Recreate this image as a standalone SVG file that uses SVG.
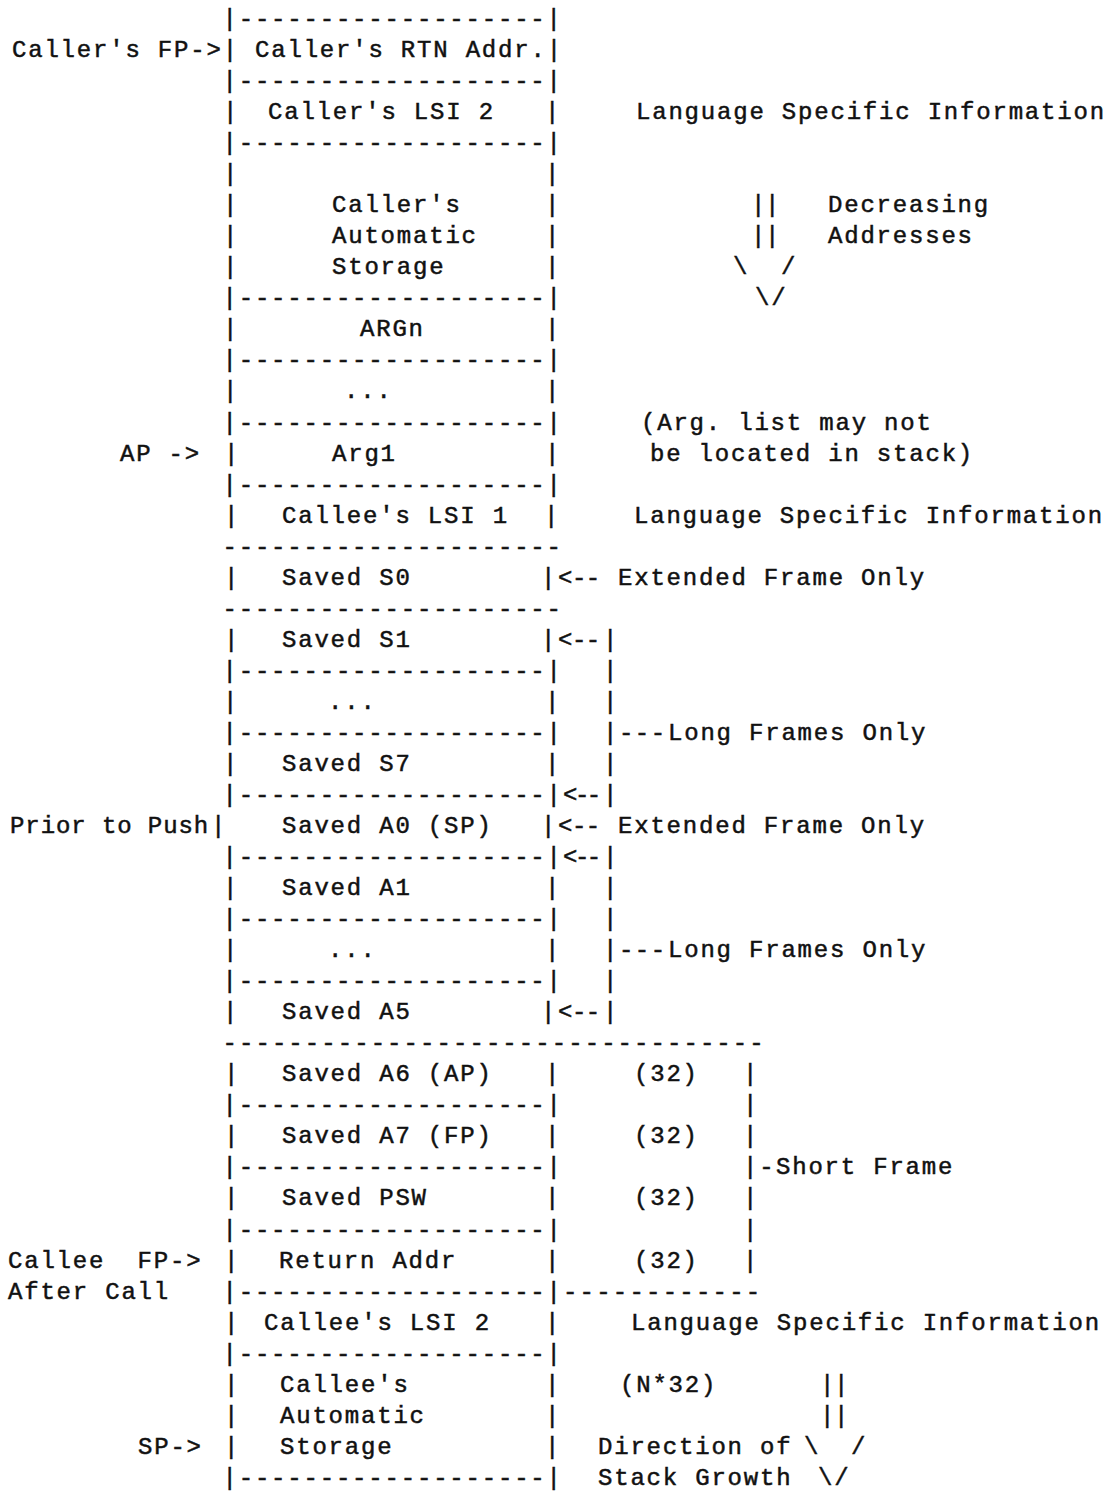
<svg xmlns="http://www.w3.org/2000/svg" width="1109" height="1491" viewBox="0 0 1109 1491">
<style>
text { font-family: "Liberation Mono", "Courier New", monospace; font-size: 24px; letter-spacing: 1.8px; fill: #111; stroke: #111; stroke-width: 0.5; white-space: pre; }
</style>
<rect width="1109" height="1491" fill="#fff"/>
<g id="stack" xml:space="preserve">
<g id="border-top"><text x="222.5" y="26">|-------------------|</text></g>
<g id="callers-rtn"><text x="12" y="57">Caller's FP-&gt;| Caller's RTN Addr.|</text></g>
<text x="222.5" y="88">|-------------------|</text>
<g id="callers-lsi2"><text x="223" y="119">|</text><text x="268" y="119">Caller's LSI 2</text><text x="545" y="119">|</text></g>
<text x="222.5" y="150">|-------------------|</text>
<g id="callers-auto">
<text x="223" y="181">|</text><text x="545" y="181">|</text>
<text x="223" y="212">|</text><text x="332" y="212">Caller's</text><text x="545" y="212">|</text>
<text x="223" y="243">|</text><text x="332" y="243">Automatic</text><text x="545" y="243">|</text>
<text x="223" y="274">|</text><text x="332" y="274">Storage</text><text x="545" y="274">|</text>
</g>
<text x="222.5" y="305">|-------------------|</text>
<g id="argn"><text x="223" y="336">|</text><text x="360" y="336">ARGn</text><text x="545" y="336">|</text></g>
<text x="222.5" y="367">|-------------------|</text>
<g id="args-dots"><text x="223" y="398">|</text><text x="344" y="398">...</text><text x="545" y="398">|</text></g>
<text x="222.5" y="430">|-------------------|</text>
<g id="arg1"><text x="120" y="461">AP -&gt;</text><text x="224" y="461">|</text><text x="332" y="461">Arg1</text><text x="545" y="461">|</text></g>
<text x="222.5" y="492">|-------------------|</text>
<g id="callee-lsi1"><text x="224" y="523">|</text><text x="282" y="523">Callee's LSI 1</text><text x="544" y="523">|</text></g>
<text x="222.5" y="554">---------------------</text>
<g id="saved-s0"><text x="224" y="585">|</text><text x="282" y="585">Saved S0</text><text x="541" y="585">|</text></g>
<text x="222.5" y="616">---------------------</text>
<g id="saved-s1"><text x="224" y="647">|</text><text x="282" y="647">Saved S1</text><text x="541" y="647">|</text></g>
<text x="222.5" y="678">|-------------------|</text>
<g id="saved-s-dots"><text x="223" y="709">|</text><text x="328" y="709">...</text><text x="545" y="709">|</text></g>
<text x="222.5" y="740">|-------------------|</text>
<g id="saved-s7"><text x="223" y="771">|</text><text x="282" y="771">Saved S7</text><text x="545" y="771">|</text></g>
<text x="222.5" y="802">|-------------------|</text>
<g id="saved-a0"><text x="10" y="833" textLength="200" lengthAdjust="spacing">Prior to Push</text><text x="211" y="833">|</text><text x="282" y="833">Saved A0 (SP)</text><text x="541" y="833">|</text></g>
<text x="222.5" y="864">|-------------------|</text>
<g id="saved-a1"><text x="223" y="895">|</text><text x="282" y="895">Saved A1</text><text x="545" y="895">|</text></g>
<text x="222.5" y="926">|-------------------|</text>
<g id="saved-a-dots"><text x="223" y="957">|</text><text x="328" y="957">...</text><text x="545" y="957">|</text></g>
<text x="222.5" y="988">|-------------------|</text>
<g id="saved-a5"><text x="223" y="1019">|</text><text x="282" y="1019">Saved A5</text><text x="541" y="1019">|</text></g>
<text x="222.5" y="1050" textLength="543" lengthAdjust="spacing">---------------------------------</text>
<g id="saved-a6"><text x="224" y="1081">|</text><text x="282" y="1081">Saved A6 (AP)</text><text x="545" y="1081">|</text><text x="634" y="1081">(32)</text></g>
<text x="222.5" y="1112">|-------------------|</text>
<g id="saved-a7"><text x="224" y="1143">|</text><text x="282" y="1143">Saved A7 (FP)</text><text x="545" y="1143">|</text><text x="634" y="1143">(32)</text></g>
<text x="222.5" y="1174">|-------------------|</text>
<g id="saved-psw"><text x="224" y="1205">|</text><text x="282" y="1205">Saved PSW</text><text x="545" y="1205">|</text><text x="634" y="1205">(32)</text></g>
<text x="222.5" y="1237">|-------------------|</text>
<g id="return-addr"><text x="8" y="1268">Callee  FP-&gt;</text><text x="224" y="1268">|</text><text x="279" y="1268">Return Addr</text><text x="545" y="1268">|</text><text x="634" y="1268">(32)</text></g>
<g id="after-call"><text x="8" y="1299">After Call</text><text x="222.5" y="1299">|-------------------|</text><text x="563" y="1299" textLength="199" lengthAdjust="spacing">------------</text></g>
<g id="callee-lsi2"><text x="224" y="1330">|</text><text x="264" y="1330">Callee's LSI 2</text><text x="545" y="1330">|</text></g>
<text x="222.5" y="1361">|-------------------|</text>
<g id="callee-auto">
<text x="224" y="1392">|</text><text x="280" y="1392">Callee's</text><text x="545" y="1392">|</text><text x="620" y="1392">(N*32)</text>
<text x="224" y="1423">|</text><text x="280" y="1423">Automatic</text><text x="545" y="1423">|</text>
<text x="138" y="1454">SP-&gt;</text><text x="224" y="1454">|</text><text x="280" y="1454">Storage</text><text x="545" y="1454">|</text>
</g>
<text x="222.5" y="1485">|-------------------|</text>
</g>
<g id="annotations" xml:space="preserve">
<text x="636" y="119">Language Specific Information</text>
<text x="828" y="212">Decreasing</text>
<text x="828" y="243">Addresses</text>
<text x="641" y="430">(Arg. list may not</text>
<text x="650" y="461">be located in stack)</text>
<text x="634" y="523">Language Specific Information</text>
<text x="618" y="585">Extended Frame Only</text>
<text x="668" y="740">Long Frames Only</text>
<text x="618" y="833">Extended Frame Only</text>
<text x="668" y="957">Long Frames Only</text>
<text x="776" y="1174">Short Frame</text>
<text x="631" y="1330">Language Specific Information</text>
<text x="598" y="1454">Direction of</text>
<text x="598" y="1485">Stack Growth</text>
</g>
<g id="connectors" xml:space="preserve">
<text x="751" y="212">|</text><text x="765" y="212">|</text>
<text x="751" y="243">|</text><text x="765" y="243">|</text>
<text x="733" y="274">\</text><text x="781" y="274">/</text>
<text x="755" y="305">\/</text>
<text x="558" y="585" textLength="44" lengthAdjust="spacing">&lt;--</text>
<text x="558" y="647" textLength="44" lengthAdjust="spacing">&lt;--</text><text x="603" y="647">|</text>
<text x="603" y="678">|</text>
<text x="603" y="709">|</text>
<text x="603" y="740" textLength="64" lengthAdjust="spacing">|---</text>
<text x="603" y="771">|</text>
<text x="563" y="802" textLength="40" lengthAdjust="spacing">&lt;--</text><text x="603" y="802">|</text>
<text x="558" y="833" textLength="44" lengthAdjust="spacing">&lt;--</text>
<text x="563" y="864" textLength="40" lengthAdjust="spacing">&lt;--</text><text x="603" y="864">|</text>
<text x="603" y="895">|</text>
<text x="603" y="926">|</text>
<text x="603" y="957" textLength="64" lengthAdjust="spacing">|---</text>
<text x="603" y="988">|</text>
<text x="558" y="1019" textLength="44" lengthAdjust="spacing">&lt;--</text><text x="603" y="1019">|</text>
<text x="743" y="1081">|</text>
<text x="743" y="1112">|</text>
<text x="743" y="1143">|</text>
<text x="743" y="1174">|-</text>
<text x="743" y="1205">|</text>
<text x="743" y="1237">|</text>
<text x="743" y="1268">|</text>
<text x="820" y="1392">|</text><text x="834" y="1392">|</text>
<text x="820" y="1423">|</text><text x="834" y="1423">|</text>
<text x="804" y="1454">\</text><text x="851" y="1454">/</text>
<text x="818" y="1485">\/</text>
</g>
</svg>
